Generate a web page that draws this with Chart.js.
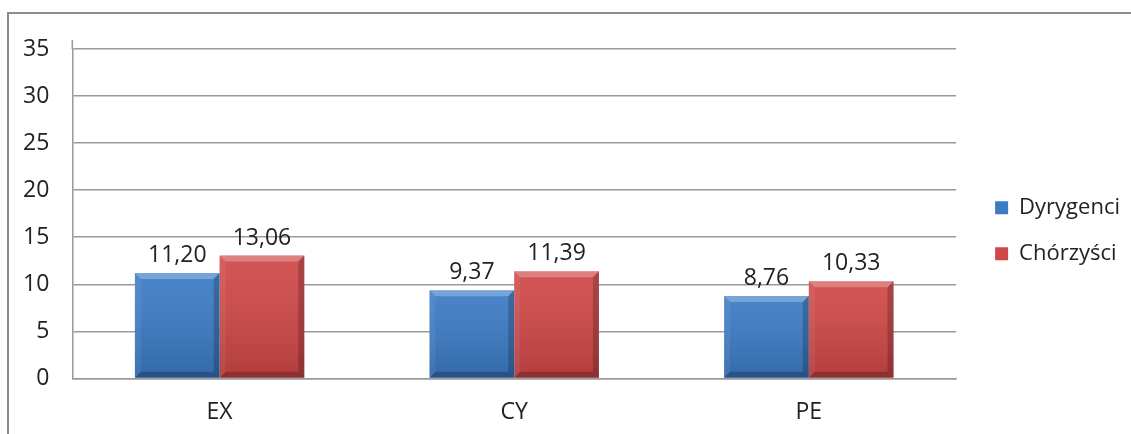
<!DOCTYPE html>
<html>
<head>
<meta charset="utf-8">
<script src="https://cdn.jsdelivr.net/npm/chart.js@4"></script>
<style>
  html, body { margin: 0; padding: 0; background: #fff; }
  #wrap { position: relative; width: 1131px; height: 434px; }
  #frame {
    position: absolute; left: 7px; top: 12px; right: 0; bottom: 0;
    border-left: 2px solid #8c8c8c; border-top: 2px solid #8c8c8c;
  }
  canvas { position: absolute; left: 0; top: 0; }
</style>
</head>
<body>
<div id="wrap">
  <div id="frame"></div>
  <canvas id="main-chart"></canvas>
</div>
<script>
const categories = ["EX", "CY", "PE"];
const dyrygenci = [11.20, 9.37, 8.76];
const chorzysci = [13.06, 11.39, 10.33];
const yTicks = [0, 5, 10, 15, 20, 25, 30, 35];

const fmt = v => v.toFixed(2).replace('.', ',');

// bevel / shading over each bar, like the old office 3d-ish bars
const bevelPlugin = {
  id: 'bevel',
  afterDatasetsDraw(chart) {
    const ctx = chart.ctx;
    chart.data.datasets.forEach((ds, di) => {
      const meta = chart.getDatasetMeta(di);
      meta.data.forEach(bar => {
        const l = bar.x - bar.width / 2, r = bar.x + bar.width / 2;
        const t = bar.y, b = bar.base;
        const e = 6;
        ctx.save();
        const g = ctx.createLinearGradient(0, t, 0, b);
        g.addColorStop(0, 'rgba(255,255,255,0.08)');
        g.addColorStop(1, 'rgba(0,0,0,0.14)');
        ctx.fillStyle = g;
        ctx.fillRect(l, t, r - l, b - t);
        // top bevel
        ctx.fillStyle = 'rgba(255,255,255,0.25)';
        ctx.beginPath();
        ctx.moveTo(l, t); ctx.lineTo(r, t); ctx.lineTo(r - e, t + e); ctx.lineTo(l + e, t + e);
        ctx.closePath(); ctx.fill();
        // right edge
        ctx.fillStyle = 'rgba(0,0,0,0.2)';
        ctx.beginPath();
        ctx.moveTo(r, t); ctx.lineTo(r, b); ctx.lineTo(r - e, b - e); ctx.lineTo(r - e, t + e);
        ctx.closePath(); ctx.fill();
        // bottom edge
        ctx.fillStyle = 'rgba(0,0,0,0.22)';
        ctx.beginPath();
        ctx.moveTo(l, b); ctx.lineTo(r, b); ctx.lineTo(r - e, b - e); ctx.lineTo(l + e, b - e);
        ctx.closePath(); ctx.fill();
        // left edge
        ctx.fillStyle = 'rgba(255,255,255,0.06)';
        ctx.beginPath();
        ctx.moveTo(l, t); ctx.lineTo(l, b); ctx.lineTo(l + e, b - e); ctx.lineTo(l + e, t + e);
        ctx.closePath(); ctx.fill();
        ctx.restore();
      });
    });
  }
};

const labelPlugin = {
  id: 'valueLabels',
  afterDatasetsDraw(chart) {
    const ctx = chart.ctx;
    ctx.save();
    ctx.font = '23px "Open Sans"';
    ctx.fillStyle = '#222';
    ctx.textAlign = 'center';
    ctx.textBaseline = 'bottom';
    chart.data.datasets.forEach((ds, di) => {
      chart.getDatasetMeta(di).data.forEach((bar, i) => {
        ctx.fillText(fmt(ds.data[i]), bar.x, bar.y - 6);
      });
    });
    ctx.restore();
  }
};

// y axis line sticks out a little above the top gridline
const axisTopPlugin = {
  id: 'axisTop',
  afterDraw(chart) {
    const { ctx, chartArea } = chart;
    ctx.save();
    ctx.strokeStyle = '#9a9a9a';
    ctx.lineWidth = 1.5;
    ctx.beginPath();
    ctx.moveTo(chartArea.left, chartArea.top);
    ctx.lineTo(chartArea.left, chartArea.top - 9);
    ctx.stroke();
    ctx.restore();
  }
};

// push the legend a bit further from the plot
const legendShift = {
  id: 'legendShift',
  afterLayout(chart) {
    if (chart.legend) {
      chart.legend.left += 15;
      chart.legend.right += 15;
    }
  }
};

document.addEventListener("DOMContentLoaded", () => {
  const canvas1 = document.getElementById("main-chart");
  canvas1.setAttribute('width', '1131');
  canvas1.setAttribute('height', '434');

  new Chart(canvas1, {
    type: 'bar',
    data: {
      labels: categories,
      datasets: [{
        label: "Dyrygenci",
        data: dyrygenci,
        backgroundColor: "#3b7ac5",
        borderWidth: 0
      }, {
        label: "Chórzyści",
        data: chorzysci,
        backgroundColor: "#d04747",
        borderWidth: 0
      }]
    },
    options: {
      responsive: false,
      animation: false,
      categoryPercentage: 0.575,
      barPercentage: 1,
      layout: { padding: { left: 23, top: 49, bottom: 8, right: 16 } },
      plugins: {
        tooltip: { enabled: false },
        legend: {
          position: 'right',
          fullSize: false,
          title: { display: true, text: ' ', font: { size: 10, lineHeight: 1 }, padding: 12 },
          labels: {
            boxWidth: 13,
            boxHeight: 13,
            padding: 24,
            color: '#222',
            font: { family: '"Open Sans"', size: 22 }
          }
        }
      },
      scales: {
        x: {
          grid: { display: false, tickLength: 20 },
          border: { color: '#9a9a9a', width: 1.5 },
          ticks: { color: '#222', padding: 0, font: { family: '"Open Sans"', size: 23 } }
        },
        y: {
          min: 0,
          max: 35,
          afterBuildTicks: axis => { axis.ticks = yTicks.map(v => ({ value: v })); },
          grid: { color: '#9a9a9a', lineWidth: 1.5, tickLength: 23, tickColor: 'rgba(0,0,0,0)' },
          border: { color: '#9a9a9a', width: 1.5 },
          ticks: { color: '#222', padding: 0, font: { family: '"Open Sans"', size: 23 } }
        }
      }
    },
    plugins: [bevelPlugin, labelPlugin, axisTopPlugin, legendShift]
  });
});
</script>
</body>
</html>
